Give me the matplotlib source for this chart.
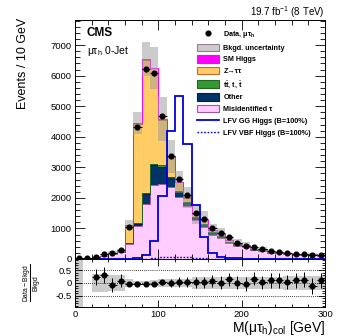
import numpy as np
import matplotlib
matplotlib.use("Agg")
import matplotlib.pyplot as plt
from matplotlib.patches import Patch
from matplotlib.lines import Line2D

plt.rcParams['font.family'] = ['Liberation Sans', 'DejaVu Sans']
plt.rcParams['mathtext.fontset'] = 'custom'
plt.rcParams['mathtext.rm'] = 'Liberation Sans'
plt.rcParams['mathtext.it'] = 'Liberation Sans:italic'
plt.rcParams['mathtext.bf'] = 'Liberation Sans:bold'

# 10 GeV bins from 0 to 300
edges = np.arange(0, 310, 10)
centers = edges[:-1] + 5

# background components (events / 10 GeV)
misid = [5, 25, 50, 95, 170, 215, 480, 1080, 1790, 2420, 2440, 2370, 2040, 1730, 1260,
         1060, 790, 690, 520, 440, 380, 290, 270, 210, 185, 150, 127, 115, 127, 93]
other = [0, 2, 5, 8, 15, 20, 35, 80, 330, 640, 580, 300, 160, 105, 90,
         80, 65, 55, 40, 35, 30, 20, 20, 15, 13, 10, 9, 8, 8, 7]
ttbar = [0, 1, 2, 3, 5, 5, 10, 20, 40, 45, 40, 25, 25, 20, 18,
         15, 12, 10, 8, 7, 6, 4, 4, 3, 3, 3, 2, 2, 2, 2]
ztt = [0, 2, 8, 7, 15, 20, 575, 3240, 4340, 3130, 1490, 645, 283, 143, 100,
       115, 70, 60, 45, 38, 34, 17, 24, 17, 14, 11, 9, 8, 10, 6]
smh = [0, 0, 0, 0, 0, 0, 0, 20, 30, 21, 28, 20, 20, 20, 16,
       12, 8, 8, 4, 3, 3, 2, 2, 2, 2, 2, 2, 2, 2, 1]

# relative background uncertainty
unc_rel = [1.0, 0.30, 0.35, 0.35, 0.30, 0.30, 0.15, 0.08, 0.085, 0.11, 0.16, 0.16, 0.14, 0.17, 0.22,
           0.22, 0.22, 0.22, 0.22, 0.22, 0.24, 0.24, 0.24, 0.25, 0.25, 0.26, 0.26, 0.27, 0.27, 0.28]

# observed data
data = [30, 35, 80, 150, 190, 285, 1040, 4316, 6203, 6072, 4686, 3368, 2606, 2093, 1514,
        1308, 1024, 839, 709, 533, 435, 390, 327, 272, 239, 185, 164, 153, 131, 120]
# error bars shown in the ratio panel
ratio_err = [0, 0, 0.32, 0.32, 0.28, 0.25, 0.08, 0.05, 0.05, 0.05, 0.1, 0.15, 0.2, 0.2, 0.22,
             0.22, 0.25, 0.25, 0.25, 0.26, 0.27, 0.27, 0.27, 0.28, 0.28, 0.28, 0.29, 0.29, 0.3, 0.3]

# LFV signals (B=100%)
lfv_gg = [0, 0, 0, 0, 0, 0, 10, 30, 130, 590, 2060, 4195, 5330, 3760, 1780,
          720, 186, 75, 30, 20, 10, 5, 0, 0, 0, 0, 0, 0, 0, 0]
lfv_vbf = [0, 0, 0, 0, 0, 0, 2, 5, 15, 35, 55, 70, 80, 60, 40,
           25, 12, 6, 3, 2, 1, 0, 0, 0, 0, 0, 0, 0, 0, 0]

c_misid, e_misid = '#ffccff', '#a05aa0'
c_other, e_other = '#003366', '#002244'
c_tt, e_tt = '#339933', '#226622'
c_ztt, e_ztt = '#ffcc66', '#cc6633'
c_smh = '#ff00ff'

fig = plt.figure(figsize=(3.49, 3.36), dpi=100)
ax = fig.add_axes([0.2149, 0.2292, 0.7163, 0.7113])
axr = fig.add_axes([0.2149, 0.0863, 0.7163, 0.1429])

comps = [(misid, c_misid, e_misid), (other, c_other, e_other), (ttbar, c_tt, e_tt),
         (ztt, c_ztt, e_ztt), (smh, c_smh, c_smh)]
base = np.zeros(len(centers))
for vals, fc, ec in comps:
    top = base + np.array(vals, dtype=float)
    ax.stairs(top, edges, baseline=base, fill=True, color=fc, lw=0)
    ax.stairs(top, edges, baseline=None, color=ec, lw=0.7)
    base = top
stack = base

unc = np.array(unc_rel)
band_lo = stack * (1 - unc)
band_hi = stack * (1 + unc)
ax.stairs(band_hi[1:], edges[1:], baseline=band_lo[1:], fill=True,
          color='#999999', alpha=0.5, lw=0)

ax.stairs(lfv_gg, edges, color='#0000dd', lw=1.3)
ax.stairs(lfv_vbf, edges, color='#0000dd', lw=1.0, ls=(0, (1.2, 1.2)))

data = np.array(data, dtype=float)
ax.errorbar(centers, data, yerr=np.sqrt(data), xerr=5, fmt='o', ms=3.4,
            color='k', elinewidth=0.7, capsize=0)

ax.set_xlim(0, 300)
ax.set_ylim(0, 7820)
ax.set_xticks([0, 100, 200, 300])
ax.set_xticks(np.arange(0, 301, 20), minor=True)
ax.set_yticks(np.arange(0, 7001, 1000))
ax.set_yticks(np.arange(0, 7801, 200), minor=True)
ax.tick_params(axis='x', labelbottom=False)
for a in (ax, axr):
    a.tick_params(which='both', direction='in', top=True, right=True, width=0.6,
                  labelsize=6.8, pad=2.5)
    a.tick_params(which='major', length=7)
    a.tick_params(which='minor', length=3.5)
    for s in a.spines.values():
        s.set_linewidth(0.7)

ax.set_ylabel('Events / 10 GeV', fontsize=9, loc='top', labelpad=2)
ax.yaxis.set_label_coords(-0.185, 1.01)

ax.text(0.045, 0.945, 'CMS', transform=ax.transAxes, fontsize=8.5,
        fontweight='bold', va='center')
ax.text(0.048, 0.872, 'μτ$_\\mathregular{h}$ 0-Jet', transform=ax.transAxes,
        fontsize=7.5, va='center')
fig.text(0.931, 0.965, '19.7 fb$^{-1}$ (8 TeV)', ha='right', va='center', fontsize=7)

handles = [
    Line2D([], [], marker='o', ls='none', color='k', ms=3.4),
    Patch(facecolor='#cccccc', edgecolor='#9a7a9a', lw=0.8),
    Patch(facecolor=c_smh, edgecolor=c_smh, lw=0.8),
    Patch(facecolor=c_ztt, edgecolor=e_ztt, lw=0.8),
    Patch(facecolor=c_tt, edgecolor=e_tt, lw=0.8),
    Patch(facecolor=c_other, edgecolor=e_other, lw=0.8),
    Patch(facecolor=c_misid, edgecolor=e_misid, lw=0.8),
    Line2D([], [], color='#0000dd', lw=1.3),
    Line2D([], [], color='#0000dd', lw=1.0, ls=(0, (1.2, 1.2))),
]
labels = ['Data, μτ$_\\mathregular{h}$', 'Bkgd. uncertainty', 'SM Higgs', 'Z→ττ',
          't$\\bar{\\mathregular{t}}$, t, $\\bar{\\mathregular{t}}$', 'Other',
          'Misidentified τ', 'LFV GG Higgs (B=100%)', 'LFV VBF Higgs (B=100%)']
leg = ax.legend(handles, labels, loc='upper left', bbox_to_anchor=(0.487, 0.963),
                frameon=False, borderpad=0, borderaxespad=0, fontsize=5.2,
                handlelength=3.1, handleheight=1.15, labelspacing=0.52,
                handletextpad=0.6, prop={'weight': 'bold', 'size': 5.2})

# ratio panel
ratio_ok = stack > 50
ratio = np.where(ratio_ok, (data - stack) / np.where(ratio_ok, stack, 1), np.nan)
r_unc = np.where(ratio_ok, unc, 0)
axr.stairs(r_unc[2:], edges[2:], baseline=-r_unc[2:], fill=True,
           color='#999999', alpha=0.5, lw=0)
axr.axvspan(0, 10, color='#999999', alpha=0.5, lw=0)
for yl in (0.5, 0, -0.5):
    axr.axhline(yl, color='k', lw=0.6, ls=(0, (1, 1.5)))
axr.errorbar(centers[ratio_ok], ratio[ratio_ok], yerr=np.array(ratio_err)[ratio_ok],
             xerr=5, fmt='o', ms=3.4, color='k', elinewidth=0.7, capsize=0)
axr.set_xlim(0, 300)
axr.set_ylim(-0.95, 0.95)
axr.set_xticks([0, 100, 200, 300])
axr.set_xticks(np.arange(0, 301, 20), minor=True)
axr.set_yticks([-0.5, 0, 0.5])
axr.set_yticklabels(['-0.5', '0', '0.5'])
axr.set_yticks(np.arange(-0.9, 0.91, 0.1), minor=True)
axr.tick_params(which='major', length=5)
axr.tick_params(which='minor', length=2.5)
axr.set_ylabel(r'$\frac{\mathregular{Data-Bkgd}}{\mathregular{Bkgd}}$', fontsize=7)
axr.yaxis.set_label_coords(-0.125, 0.5)
axr.set_xlabel(r'M($\mathregular{\mu\tau_{h}}$)$_\mathregular{col}$ [GeV]',
               fontsize=10, loc='right', labelpad=0)

fig.savefig('out.png', dpi=100)
